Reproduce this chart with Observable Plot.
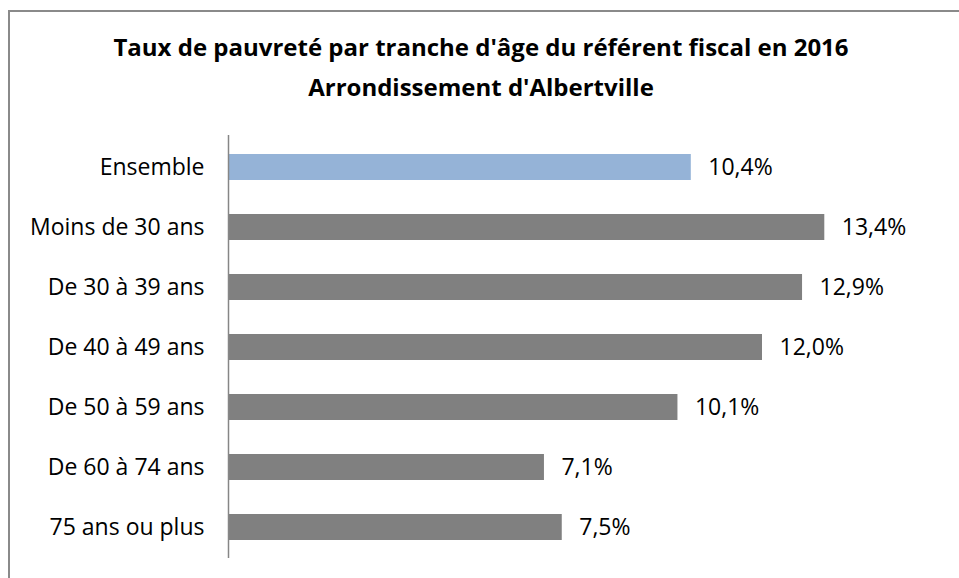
<!DOCTYPE html>
<html>
<head>
<meta charset="utf-8">
<script src="https://cdn.jsdelivr.net/npm/d3@7"></script>
<script src="https://cdn.jsdelivr.net/npm/@observablehq/plot@0.6"></script>
<style>
  html, body { margin: 0; padding: 0; background: #fff; }
  #wrap { position: relative; width: 959px; height: 578px; overflow: hidden; font-family: "Open Sans", sans-serif; }
  #frame { position: absolute; left: 8px; top: 10px; width: 1000px; height: 700px; border-top: 2px solid #8a8a8a; border-left: 2px solid #8a8a8a; }
  #title { position: absolute; left: 8px; width: 946px; top: 27px; text-align: center; font-weight: bold; font-size: 24px; line-height: 40px; color: #000; }
  #chart { position: absolute; left: 0; top: 0; }
</style>
</head>
<body>
<div id="wrap">
  <div id="frame"></div>
  <div id="title">Taux de pauvreté par tranche d'âge du référent fiscal en 2016<br>Arrondissement d'Albertville</div>
  <div id="chart"></div>
</div>
<script>
const categories = ["Ensemble", "Moins de 30 ans", "De 30 à 39 ans", "De 40 à 49 ans", "De 50 à 59 ans", "De 60 à 74 ans", "75 ans ou plus"];
const values = [10.4, 13.4, 12.9, 12.0, 10.1, 7.1, 7.5];
const colors = ["#95B3D7", "#808080", "#808080", "#808080", "#808080", "#808080", "#808080"];

const data = categories.map((c, i) => ({label: c, value: values[i], color: colors[i]}));
const fmt = v => v.toFixed(1).replace(".", ",") + "%";

const plot = Plot.plot({
  width: 959,
  height: 578,
  marginLeft: 228,
  marginRight: 19,
  marginTop: 135,
  marginBottom: 20,
  style: {fontFamily: "Open Sans, sans-serif", fontSize: "23px", color: "#000", background: "transparent"},
  x: {domain: [0, 16], axis: null},
  y: {domain: categories, paddingInner: 0.57, paddingOuter: 0.31, label: null, tickSize: 0, tickPadding: 24},
  marks: [
    Plot.barX(data, {x: "value", y: "label", fill: "color"}),
    Plot.ruleX([0], {stroke: "#868686", strokeWidth: 1.5}),
    Plot.text(data, {x: "value", y: "label", text: d => fmt(d.value), textAnchor: "start", dx: 17, fontSize: 23, fill: "#000"}),
    Plot.axisY({tickSize: 0, tickPadding: 24, fontSize: 23, label: null})
  ]
});
document.getElementById("chart").appendChild(plot);
</script>
</body>
</html>
